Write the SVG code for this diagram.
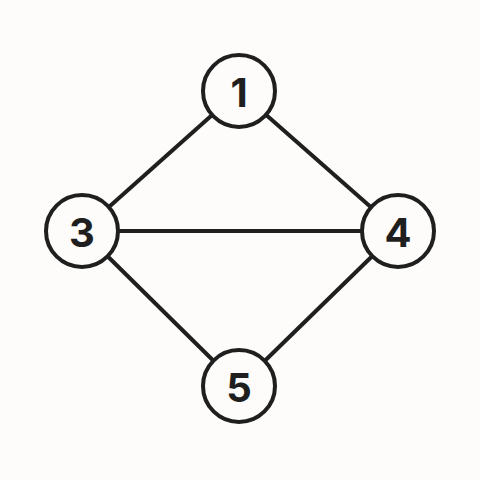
<svg xmlns="http://www.w3.org/2000/svg" width="480" height="480" viewBox="0 0 480 480">
<style>
.edge{stroke:#1f1f1f;stroke-width:4;fill:none}
.node circle{fill:#fdfcfa;stroke:#1f1f1f;stroke-width:4}
.node text{font-family:Inter,"Liberation Sans",sans-serif;font-weight:700;font-size:40px;fill:#1f1f1f;text-anchor:middle;dominant-baseline:central}
</style>
<rect width="480" height="480" fill="#fdfcfa"/>
<g id="edges">
<line class="edge" x1="239" y1="91" x2="82" y2="231"/>
<line class="edge" x1="239" y1="91" x2="398" y2="231"/>
<line class="edge" x1="82" y1="231" x2="398" y2="231"/>
<line class="edge" x1="82" y1="231" x2="239" y2="386"/>
<line class="edge" x1="398" y1="231" x2="239" y2="386"/>
</g>
<g id="node1" class="node"><circle cx="239" cy="91" r="36"/><text x="239" y="92">1</text></g>
<g id="node3" class="node"><circle cx="82" cy="231" r="36"/><text x="82" y="232">3</text></g>
<g id="node4" class="node"><circle cx="398" cy="231" r="36"/><text x="398" y="232">4</text></g>
<g id="node5" class="node"><circle cx="239" cy="386" r="36"/><text x="239" y="387">5</text></g>
</svg>
